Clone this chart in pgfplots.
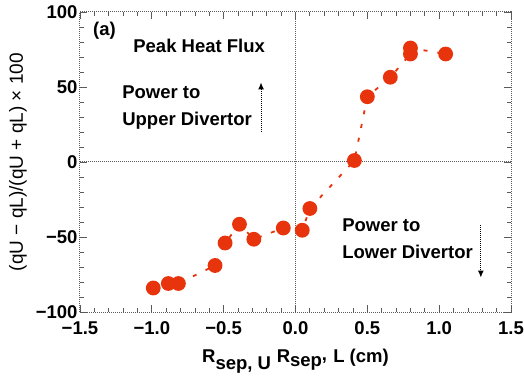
\documentclass[border=0pt]{standalone}
\usepackage{pgfplots}
\pgfplotsset{compat=1.18}
\usetikzlibrary{arrows.meta}
\usepackage{fontspec}
\setmainfont{Liberation Sans}
\definecolor{ptred}{RGB}{232,52,12}
\definecolor{frame}{RGB}{90,90,90}
\newcommand{\bigf}{\fontsize{18.5}{27}\selectfont\bfseries}
\begin{document}
\begin{tikzpicture}
\begin{axis}[
  scale only axis,
  width=431pt, height=300pt,
  xmin=-1.5, xmax=1.5, ymin=-100, ymax=100,
  xtick={-1.5,-1,-0.5,0,0.5,1,1.5},
  xticklabels={−1.5,−1.0,−0.5,0.0,0.5,1.0,1.5},
  ytick={-100,-50,0,50,100},
  yticklabels={−100,−50,0,50,100},
  /pgf/number format/assume math mode=true,
  minor x tick num=4, minor y tick num=4,
  tick align=inside,
  major tick length=7pt, minor tick length=4pt,
  every tick/.style={frame, line width=0.8pt},
  axis line style={frame, densely dotted, line width=1pt},
  tick label style={font=\bigf},
  xticklabel style={yshift=-6pt},
  yticklabel style={xshift=1pt},
  xlabel={R$_{\textbf{sep, U}}$ R$_{\textbf{sep}^{\textbf{,}}}$ L (cm)},
  ylabel={(qU − qL)/(qU + qL) × 100},
  xlabel style={font=\bigf, yshift=-8pt},
  ylabel style={font=\fontsize{19}{22}\selectfont, yshift=2pt},
  clip=false,
]
\draw[frame, densely dotted, line width=1pt] (axis cs:0,-100) -- (axis cs:0,100);
\draw[frame, densely dotted, line width=1pt] (axis cs:-1.5,0) -- (axis cs:1.5,0);
\addplot[color=ptred, line width=1.8pt, dash pattern=on 4pt off 10pt,
  mark=*, mark size=6.5pt, mark options={solid, fill=ptred, draw=ptred}]
coordinates {
(-0.99,-84) (-0.885,-81) (-0.815,-81) (-0.56,-69) (-0.49,-54) (-0.39,-41.5)
(-0.29,-51.5) (-0.085,-44) (0.047,-45.5) (0.10,-31) (0.41,1) (0.50,43.5)
(0.66,56.5) (0.80,72) (0.80,76) (1.045,72)
};
\node[font=\bigf, anchor=west, inner sep=0pt] at (axis cs:-1.41,87.3) {(a)};
\node[font=\bigf, anchor=west, inner sep=0pt] at (axis cs:-1.13,77.3) {Peak Heat Flux};
\node[font=\bigf, anchor=west, align=left, inner sep=0pt] at (axis cs:-1.207,36.3) {Power to\\Upper Divertor};
\node[font=\bigf, anchor=west, align=left, inner sep=0pt] at (axis cs:0.324,-51) {Power to\\Lower Divertor};
\draw[-{Latex[length=7pt,width=6pt]}, line width=1pt, densely dotted] (axis cs:-0.24,20) -- (axis cs:-0.24,53);
\draw[-{Latex[length=7pt,width=6pt]}, line width=1pt, densely dotted] (axis cs:1.29,-42) -- (axis cs:1.29,-77);
\end{axis}
\pgfresetboundingbox
\path ([shift={(-80pt,-76pt)}]current axis.south west) rectangle ([shift={(13pt,12pt)}]current axis.north east);
\end{tikzpicture}
\end{document}
